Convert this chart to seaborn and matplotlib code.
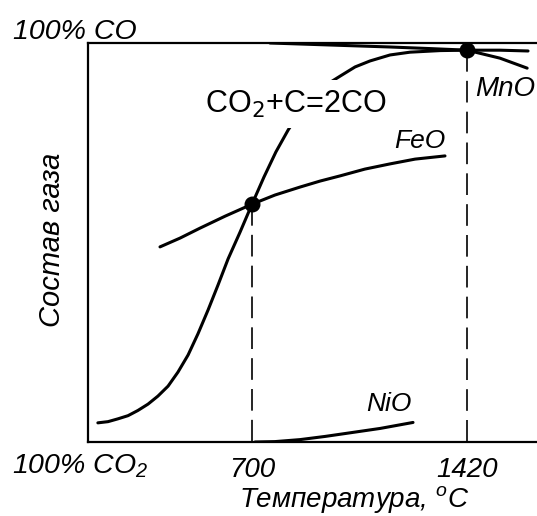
import matplotlib
matplotlib.use("Agg")
import matplotlib.pyplot as plt
import pandas as pd
import seaborn as sns

# CO2 + C = 2CO equilibrium curve (temperature, % CO)
boud_t = [184, 218, 251, 285, 318, 352, 385, 419, 452, 486, 519, 553, 586, 620, 660,
          700, 740, 780, 821, 861, 901, 948, 995, 1045, 1095, 1162, 1229, 1330, 1420, 1530, 1624]
boud_co = [4.8, 5.1, 5.8, 6.6, 7.9, 9.5, 11.5, 14.0, 17.5, 21.8, 27.1, 33.1, 39.3, 45.9, 52.6,
           59.6, 66.4, 72.7, 78.2, 82.7, 86.5, 89.5, 91.7, 94.0, 95.5, 97.0, 97.7, 98.1, 98.2, 98.2, 98.0]

feo_t = [392, 459, 526, 610, 700, 777, 861, 928, 995, 1078, 1162, 1246, 1346]
feo_co = [48.9, 51.1, 53.6, 56.6, 59.6, 61.9, 63.9, 65.4, 66.7, 68.4, 69.7, 70.9, 71.7]

mno_t = [760, 961, 1162, 1296, 1420, 1530, 1621]
mno_co = [100.0, 99.5, 99.0, 98.6, 98.2, 96.2, 93.7]

nio_t = [710, 777, 861, 945, 1028, 1129, 1239]
nio_co = [0.0, 0.1, 0.6, 1.4, 2.3, 3.4, 4.9]

cross_t = [700, 1420]
cross_co = [59.6, 98.2]
tick_labels = ["700", "1420"]

sns.set_style("white")
plt.rcParams["font.family"] = ["Liberation Sans", "DejaVu Sans"]
plt.rcParams["text.color"] = "black"
plt.rcParams["axes.labelcolor"] = "black"
plt.rcParams["xtick.color"] = "black"
plt.rcParams["mathtext.fontset"] = "custom"
plt.rcParams["mathtext.it"] = "Liberation Sans:italic"
plt.rcParams["mathtext.rm"] = "Liberation Sans:italic"

fig = plt.figure(figsize=(5.37, 5.16), dpi=100)
ax = fig.add_axes([88 / 537, 74 / 516, 449 / 537, 399 / 516])

curves = [(boud_t, boud_co), (feo_t, feo_co), (mno_t, mno_co), (nio_t, nio_co)]
for t, co in curves:
    df = pd.DataFrame({"t": t, "co": co})
    sns.lineplot(data=df, x="t", y="co", sort=False, estimator=None,
                 color="black", linewidth=2.2, ax=ax, zorder=3)

# dashed drop lines from the intersection points
for t, co in zip(cross_t, cross_co):
    ax.plot([t, t], [co, 0], color="black", linewidth=1.2,
            linestyle=(0, (13, 5.5)), zorder=2)

ax.scatter(cross_t, cross_co, s=110, color="black", zorder=5)

ax.set_xlim(151, 1654)
ax.set_ylim(0, 100)
ax.set_xticks(cross_t)
ax.set_xticklabels(tick_labels, fontsize=20, style="italic")
ax.tick_params(axis="x", length=0, pad=11)
ax.set_yticks([])

for s in ["left", "bottom", "top"]:
    ax.spines[s].set_linewidth(1.6)
    ax.spines[s].set_color("black")
ax.spines["right"].set_visible(False)

ax.set_xlabel("Температура, $^o$C", fontsize=20, style="italic")
ax.xaxis.set_label_coords(0.592, -0.145)
ax.xaxis.label.set_va("center")
ax.set_ylabel("Состав газа", fontsize=21, style="italic")
ax.yaxis.set_label_coords(-0.08, 0.506)
ax.yaxis.label.set_va("center")

fig.text(13 / 537, 1 - 32 / 516, "100% CO", fontsize=20.5, style="italic",
         ha="left", va="center")
fig.text(12 / 537, 1 - 466 / 516, "100% CO$_2$", fontsize=20.5, style="italic",
         ha="left", va="center")

ax.text((296 - 88) / 449, (442 - 104) / 399, "CO$_2$+C=2CO", transform=ax.transAxes,
        fontsize=22, ha="center", va="center", math_fontfamily="dejavusans",
        bbox=dict(facecolor="white", edgecolor="none", pad=6), zorder=4)
ax.text(1346, 75.5, "FeO", fontsize=19, style="italic", ha="right", va="center")
ax.text(1447, 88.5, "MnO", fontsize=20, style="italic", ha="left", va="center")
ax.text(1235, 9.5, "NiO", fontsize=19, style="italic", ha="right", va="center")

fig.savefig("out.png", dpi=100)
